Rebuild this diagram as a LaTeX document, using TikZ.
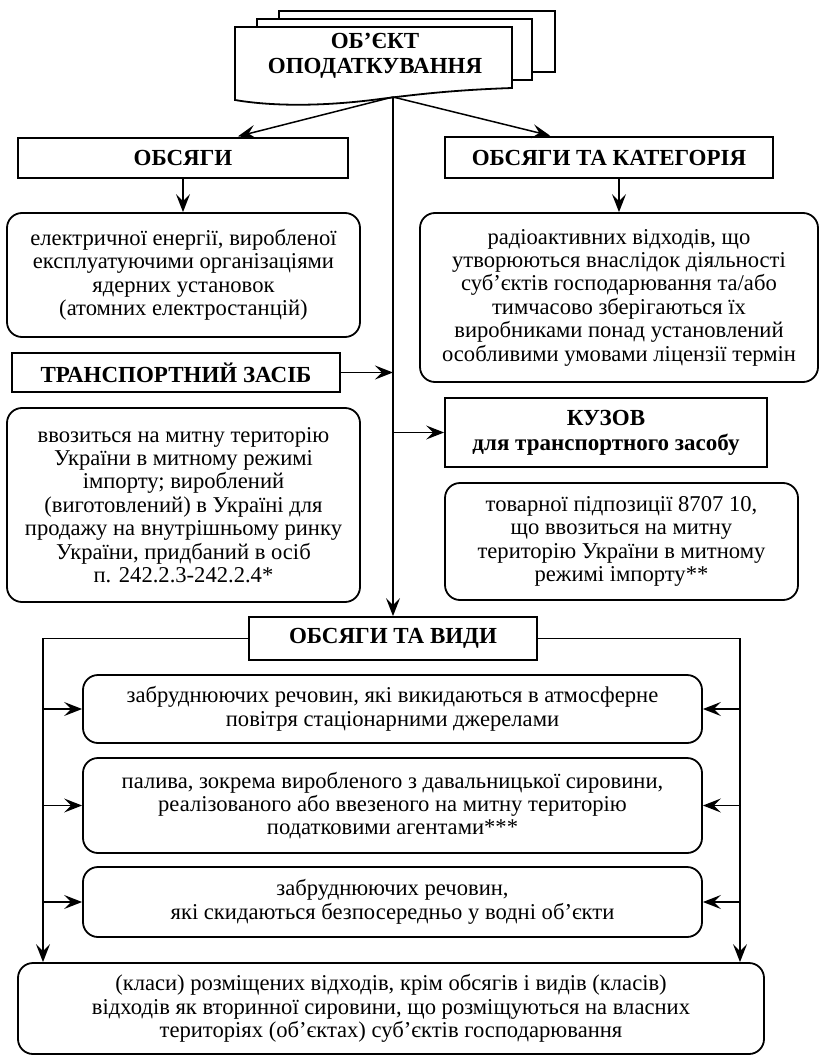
\documentclass[tikz,border=0pt]{standalone}
\usepackage{fontspec}
\setmainfont{Liberation Serif}
\usetikzlibrary{arrows.meta}
\begin{document}
\begin{tikzpicture}[x=1pt,y=-1pt,
  hbox/.style={draw, line width=1.8pt, fill=white, inner sep=0pt, align=center,
    font=\bfseries\fontsize{23}{25}\selectfont},
  rbox/.style={draw, line width=1.8pt, rounded corners=15pt, inner sep=0pt, align=center,
    font=\fontsize{22.6}{23.4}\selectfont},
  conn/.style={line width=1.5pt, -{Stealth[length=18pt,width=14pt,inset=7pt]}},
  sheet/.style={draw, line width=1.8pt, fill=white}]
\useasboundingbox (0,0) rectangle (821,1056);

% stacked document
\draw[sheet] (279,11) rectangle (555,72);
\draw[sheet] (257,19) rectangle (532,80);
\draw[sheet] (235,27) -- (512,27) -- (512,88)
  .. controls (455,90) and (420,94) .. (380,99)
  .. controls (320,107) and (270,106) .. (235,100) -- cycle;
\node[font=\bfseries\fontsize{23}{25}\selectfont, align=center, inner sep=0pt] (obj) at (375,56)
  {ОБ’ЄКТ\\ОПОДАТКУВАННЯ};
\coordinate (j) at (393,97);

% left column
\node[hbox, minimum width=330pt, minimum height=40pt] (obs) at (183,158) {ОБСЯГИ};
\node[rbox, minimum width=353pt, minimum height=124pt] (el) at (183.5,275)
  {електричної енергії, виробленої\\експлуатуючими організаціями\\ядерних установок\\(атомних електростанцій)};
\node[hbox, minimum width=328pt, minimum height=39pt] (tz) at (176,372.5) {ТРАНСПОРТНИЙ ЗАСІБ};
\node[rbox, minimum width=353pt, minimum height=194pt] (vv) at (183.5,505)
  {ввозиться на митну територію\\України в митному режимі\\імпорту; вироблений\\(виготовлений) в Україні для\\продажу на внутрішньому ринку\\України, придбаний в осіб\\п. 242.2.3-242.2.4*};

% right column
\node[hbox, minimum width=328pt, minimum height=41pt] (kat) at (609,157.5) {ОБСЯГИ ТА КАТЕГОРІЯ};
\node[rbox, minimum width=398pt, minimum height=169pt] (rad) at (619,297.5)
  {радіоактивних відходів, що\\утворюються внаслідок діяльності\\суб’єктів господарювання та/або\\тимчасово зберігаються їх\\виробниками понад установлений\\особливими умовами ліцензії термін};
\node[hbox, minimum width=322pt, minimum height=69pt] (kuz) at (606,432.5)
  {КУЗОВ\\для транспортного засобу};
\node[rbox, minimum width=353pt, minimum height=117pt] (tov) at (621.5,541.5)
  {товарної підпозиції 8707 10,\\що ввозиться на митну\\територію України в митному\\режимі імпорту**};

% bottom part
\node[hbox, minimum width=288pt, minimum height=43pt] (vydy) at (393,638.5) {ОБСЯГИ ТА ВИДИ};
\node[rbox, minimum width=619pt, minimum height=68pt] (b1) at (392.5,709)
  {забруднюючих речовин, які викидаються в атмосферне\\повітря стаціонарними джерелами};
\node[rbox, minimum width=619pt, minimum height=95pt] (b2) at (392.5,805.5)
  {палива, зокрема виробленого з давальницької сировини,\\реалізованого або ввезеного на митну територію\\податковими агентами***};
\node[rbox, minimum width=619pt, minimum height=70pt] (b3) at (392.5,902)
  {забруднюючих речовин,\\які скидаються безпосередньо у водні об’єкти};
\node[rbox, minimum width=746pt, minimum height=91pt] (bot) at (391,1008.5)
  {(класи) розміщених відходів, крім обсягів і видів (класів)\\відходів як вторинної сировини, що розміщуються на власних\\територіях (об’єктах) суб’єктів господарювання};

\coordinate (L) at (43,638.5);
\coordinate (R) at (740,638.5);

% connectors
\draw[conn, shorten >=3pt] (j) -- ([xshift=52pt]obs.north);
\draw[conn, shorten >=2pt] (j) -- ([xshift=-57pt]kat.north);
\draw[conn] (j) -- (vydy.north);
\draw[conn] (obs.south) -- (obs.south |- el.north);
\draw[conn] (rad.north |- kat.south) -- (rad.north);
\draw[conn] (tz.east) -- (tz.east -| j);
\draw[conn] (kuz.west -| j) -- (kuz.west);
\draw[conn] (vydy.west) -- (L) -- (L |- bot.north);
\draw[conn] (vydy.east) -- (R) -- (R |- bot.north);
\draw[conn] (L |- b1.west) -- (b1.west);
\draw[conn] (L |- b2.west) -- (b2.west);
\draw[conn] (L |- b3.west) -- (b3.west);
\draw[conn] (R |- b1.east) -- (b1.east);
\draw[conn] (R |- b2.east) -- (b2.east);
\draw[conn] (R |- b3.east) -- (b3.east);
\end{tikzpicture}
\end{document}
